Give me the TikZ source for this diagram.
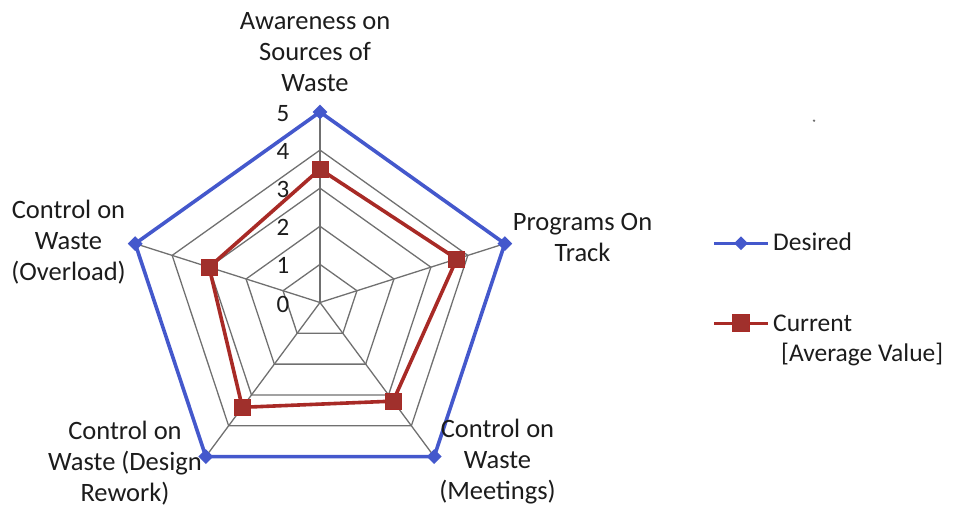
\documentclass[tikz,border=0pt]{standalone}
\usepackage{fontspec}
\setmainfont{Carlito}
\usetikzlibrary{shapes.geometric}
\definecolor{desiredblue}{RGB}{68,88,204}
\definecolor{currentred}{RGB}{168,42,38}
\definecolor{currentfill}{RGB}{160,48,44}
\definecolor{gridgray}{RGB}{112,112,112}
\definecolor{labeltext}{RGB}{28,28,28}
\tikzset{
  gridline/.style={draw=gridgray, line width=1.3pt},
  desiredline/.style={draw=desiredblue, line width=3.6pt, line join=round},
  currentline/.style={draw=currentred, line width=3.6pt, line join=round},
  diamondmark/.style={diamond, fill=desiredblue, inner sep=0pt, minimum size=15pt},
  squaremark/.style={rectangle, fill=currentfill, draw=currentred, line width=0.8pt, inner sep=0pt, minimum size=16pt},
  axislabel/.style={font=\fontsize{26.5}{31}\selectfont, text=labeltext, align=center, inner sep=0pt, anchor=base},
  ticklabel/.style={font=\fontsize{25}{29}\selectfont, text=labeltext, inner sep=0pt},
  legendtext/.style={font=\fontsize{25.5}{30}\selectfont, text=labeltext, align=left, inner sep=0pt, anchor=base west}
}
\begin{document}
\begin{tikzpicture}[x=1pt, y=-1pt]
\useasboundingbox (0,0) rectangle (954,510);

% radar chart: one unit on each axis
\begin{scope}[shift={(320,302.5)}, x={(38.86pt,0pt)}, y={(0pt,38.1pt)}]
  \coordinate (o) at (0,0);
  % grid pentagons for the values 1 to 4
  \foreach \r in {1,...,4}
    \draw[gridline] (90:\r) -- (18:\r) -- (-54:\r) -- (-126:\r) -- (162:\r) -- cycle;
  % outer ends of the five axes (value 5)
  \coordinate (d1) at (90:5);
  \coordinate (d2) at (18:5);
  \coordinate (d3) at (-54:5);
  \coordinate (d4) at (-126:5);
  \coordinate (d5) at (162:5);
  \foreach \k in {1,...,5}
    \draw[gridline] (o) -- (d\k);
  % current average values
  \coordinate (c1) at (90:3.5);
  \coordinate (c2) at (18:3.7);
  \coordinate (c3) at (-54:3.2);
  \coordinate (c4) at (-126:3.4);
  \coordinate (c5) at (162:3.0);
\end{scope}

% desired series
\draw[desiredline] (d1) -- (d2) -- (d3) -- (d4) -- (d5) -- cycle;
\foreach \k in {1,...,5}
  \node[diamondmark] (dm\k) at (d\k) {};

% current series
\draw[currentline] (c1) -- (c2) -- (c3) -- (c4) -- (c5) -- cycle;
\foreach \k in {1,...,5}
  \node[squaremark] (cm\k) at (c\k) {};

% scale labels along the vertical axis
\foreach \v in {0,...,5}
  \node[ticklabel] (tick\v) at (283, 304 - \v*38.1) {\v};

% axis titles (placed by the baseline of their last line)
\node[axislabel] (axA) at (315,92) {Awareness on\\Sources of\\Waste};
\node[axislabel] (axP) at (582.5,262) {Programs On\\Track};
\node[axislabel] (axM) at (497.5,500) {Control on\\Waste\\(Meetings)};
\node[axislabel] (axD) at (125,502) {Control on\\Waste (Design\\Rework)};
\node[axislabel] (axO) at (68.5,281) {Control on\\Waste\\(Overload)};

% legend
\coordinate (lda) at (714,243.3);
\coordinate (ldb) at (768,243.3);
\draw[draw=desiredblue, line width=3pt] (lda) -- (ldb);
\node[diamondmark, minimum size=14pt] (ldm) at (741,243.3) {};
\node[legendtext] (ldt) at (773,250.7) {Desired};

\coordinate (lca) at (714,323.3);
\coordinate (lcb) at (768,323.3);
\draw[draw=currentred, line width=3pt] (lca) -- (lcb);
\node[squaremark, minimum size=17pt] (lcm) at (741,323.3) {};
\node[legendtext] (lct) at (773,361.7) {Current\\\hspace*{8pt}[Average Value]};

% stray dot
\fill[gridgray] (814,120.7) circle (1.3pt);
\end{tikzpicture}
\end{document}
